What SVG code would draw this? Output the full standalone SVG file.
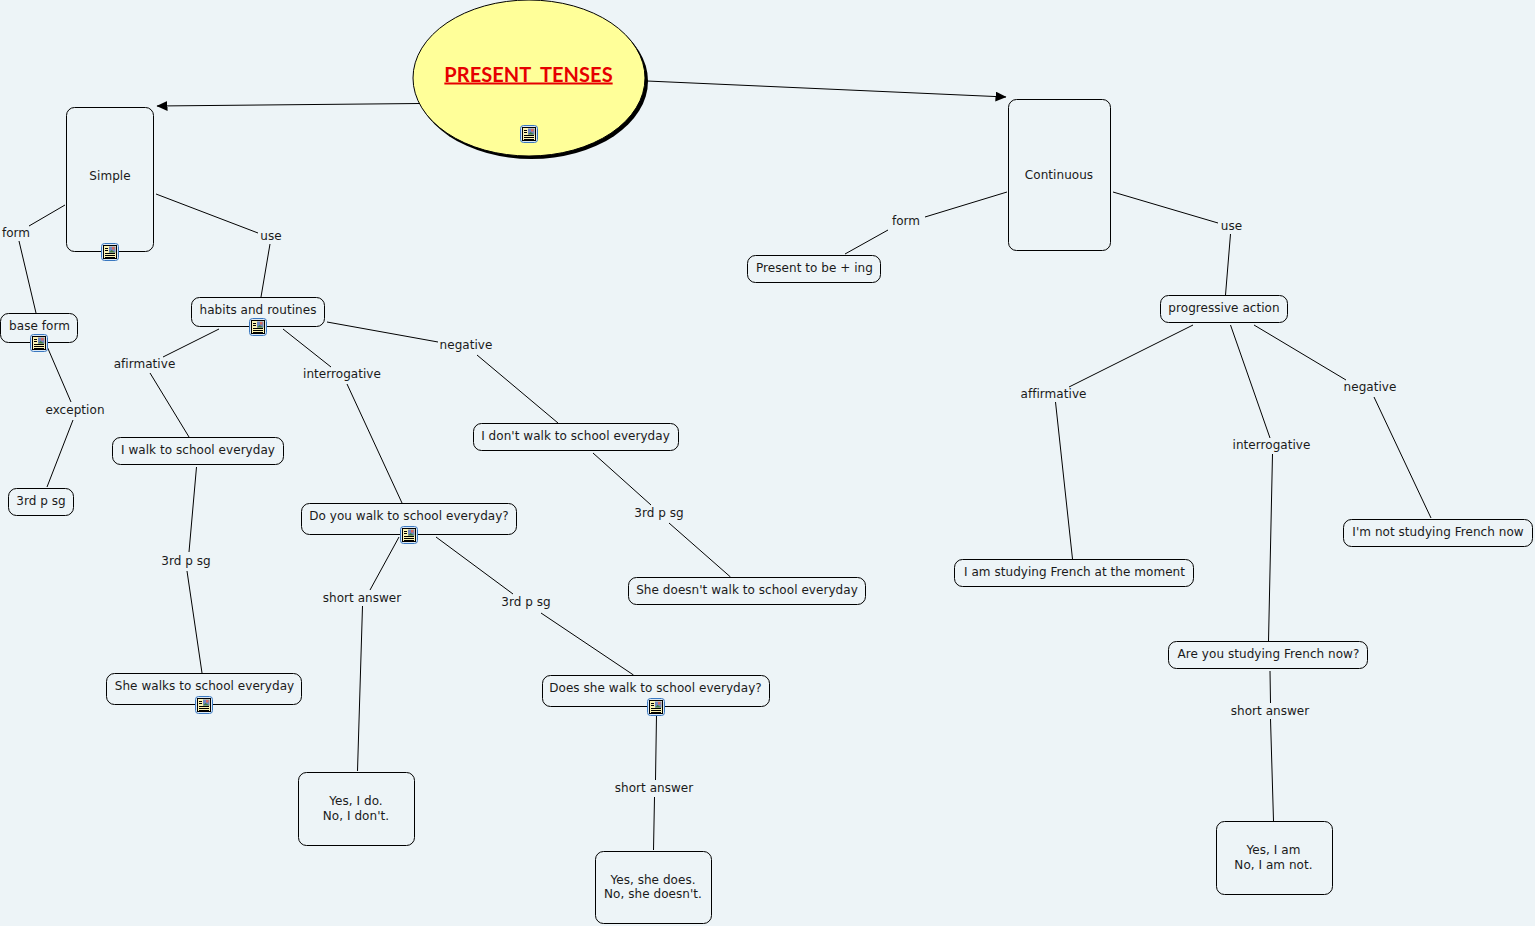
<svg xmlns="http://www.w3.org/2000/svg" width="1535" height="926" viewBox="0 0 1535 926">
<style>
text{font-family:"DejaVu Sans",Verdana,sans-serif;font-size:12px;fill:#1a1a1a;text-anchor:middle;letter-spacing:.05px}
.n{fill:#edf4f7;stroke:#000;stroke-width:1}
.c line{stroke:#000;stroke-width:1}
text.t{font-family:"Lato","Open Sans",sans-serif;font-size:20px;font-weight:700;fill:#e60000;text-decoration:underline;word-spacing:5px}
</style>
<defs>
<marker id="a" markerUnits="userSpaceOnUse" markerWidth="11" markerHeight="10" refX="10.500" refY="5" orient="auto"><path d="M0 0L11 5L0 10Z" fill="#000"/></marker>
<g id="i">
<rect x="-8.500" y="-8.500" width="17" height="17" rx="3" fill="#dbe9f7" stroke="#3a78c0"/>
<rect x="-6.500" y="-6.500" width="13" height="13" fill="#fbf3b5" stroke="#000"/>
<rect x="-1" y="-5.500" width="6.500" height="6" fill="#6f86c4"/>
<path d="M-1 .5L1.500-2L5.500 .5Z" fill="#3e7a3e"/>
<rect x="2" y="-5" width="2.500" height="2.500" fill="#d9685a"/>
<path d="M-5-3.500h3M-5-1.500h3M-5 1.500h10M-5 3.500h10M-5 5.500h10" stroke="#000" stroke-width="1" fill="none"/>
</g>
</defs>
<rect width="1535" height="926" fill="#edf4f7"/>
<g class="c">
<line x1="420" y1="103.500" x2="157" y2="106" marker-end="url(#a)"/>
<line x1="647" y1="81" x2="1006" y2="97" marker-end="url(#a)"/>
<line x1="65" y1="205" x2="29" y2="226"/>
<line x1="19" y1="241" x2="36" y2="313"/>
<line x1="156" y1="194" x2="258" y2="233"/>
<line x1="270" y1="244" x2="261" y2="297"/>
<line x1="46" y1="344" x2="71" y2="402"/>
<line x1="73" y1="420" x2="47" y2="487"/>
<line x1="219" y1="329" x2="163" y2="357"/>
<line x1="150" y1="373" x2="189" y2="437"/>
<line x1="283" y1="329" x2="331" y2="367"/>
<line x1="347" y1="384" x2="402" y2="503"/>
<line x1="327" y1="322" x2="438" y2="342"/>
<line x1="477" y1="355" x2="558" y2="423"/>
<line x1="196.500" y1="467" x2="189" y2="552"/>
<line x1="187" y1="571" x2="202" y2="673"/>
<line x1="399" y1="537" x2="370" y2="590"/>
<line x1="362.500" y1="606" x2="357.500" y2="771"/>
<line x1="436" y1="537" x2="513" y2="594"/>
<line x1="541" y1="613" x2="633.500" y2="675"/>
<line x1="593" y1="453" x2="651" y2="505"/>
<line x1="669" y1="523" x2="730.500" y2="577"/>
<line x1="656.500" y1="715" x2="655.500" y2="780"/>
<line x1="654.500" y1="797" x2="653.500" y2="850"/>
<line x1="1007" y1="192" x2="925" y2="217"/>
<line x1="888" y1="230" x2="845" y2="254"/>
<line x1="1113" y1="192" x2="1218" y2="223"/>
<line x1="1230.500" y1="234" x2="1225.500" y2="295"/>
<line x1="1193" y1="325" x2="1069" y2="387"/>
<line x1="1055.500" y1="402" x2="1072.500" y2="559"/>
<line x1="1230.500" y1="325" x2="1270" y2="438"/>
<line x1="1272.500" y1="454" x2="1268.500" y2="641"/>
<line x1="1254" y1="325" x2="1346" y2="380"/>
<line x1="1374" y1="397" x2="1431" y2="518"/>
<line x1="1270" y1="671" x2="1270.500" y2="703"/>
<line x1="1270.500" y1="719" x2="1273.500" y2="821"/>
</g>
<g id="root">
<ellipse cx="531.500" cy="81" rx="116.500" ry="78" fill="#000"/>
<ellipse cx="529" cy="78" rx="116" ry="78" fill="#ffff99" stroke="#000"/>
<text class="t" x="528.500" y="81.500">PRESENT TENSES</text>
<use href="#i" x="529" y="134"/>
</g>
<g id="simple"><rect class="n" x="66.500" y="107.500" width="87" height="144" rx="8"/><text x="110" y="180">Simple</text><use href="#i" x="110" y="252"/></g>
<g id="continuous"><rect class="n" x="1008.500" y="99.500" width="102" height="151" rx="8"/><text x="1059" y="179">Continuous</text></g>
<g id="base-form"><rect class="n" x="0.500" y="313.500" width="77" height="29" rx="8"/><text x="39.500" y="330">base form</text><use href="#i" x="39" y="343"/></g>
<g id="third1"><rect class="n" x="8.500" y="488.500" width="65" height="27" rx="8"/><text x="41" y="505">3rd p sg</text></g>
<g id="habits"><rect class="n" x="191.500" y="297.500" width="133" height="29" rx="8"/><text x="258" y="314">habits and routines</text><use href="#i" x="258" y="327"/></g>
<g id="walk"><rect class="n" x="112.500" y="437.500" width="171" height="27" rx="8"/><text x="198" y="454">I walk to school everyday</text></g>
<g id="she-walks"><rect class="n" x="106.500" y="673.500" width="195" height="31" rx="8"/><text x="204.500" y="690">She walks to school everyday</text><use href="#i" x="204" y="705"/></g>
<g id="do-you"><rect class="n" x="301.500" y="503.500" width="215" height="31" rx="8"/><text x="409" y="520">Do you walk to school everyday?</text><use href="#i" x="409" y="535"/></g>
<g id="dont"><rect class="n" x="473.500" y="423.500" width="205" height="27" rx="8"/><text x="575.500" y="440">I don't walk to school everyday</text></g>
<g id="doesnt"><rect class="n" x="628.500" y="577.500" width="237" height="27" rx="8"/><text x="747" y="594">She doesn't walk to school everyday</text></g>
<g id="does-she"><rect class="n" x="542.500" y="675.500" width="227" height="31" rx="8"/><text x="655.500" y="692">Does she walk to school everyday?</text><use href="#i" x="656" y="707"/></g>
<g id="yes-do"><rect class="n" x="298.500" y="772.500" width="116" height="73" rx="8"/><text x="356" y="805">Yes, I do.</text><text x="356" y="820">No, I don't.</text></g>
<g id="yes-does"><rect class="n" x="595.500" y="851.500" width="116" height="72" rx="8"/><text x="653" y="883.500">Yes, she does.</text><text x="653" y="898">No, she doesn't.</text></g>
<g id="present-be"><rect class="n" x="747.500" y="255.500" width="133" height="27" rx="8"/><text x="814.500" y="272">Present to be + ing</text></g>
<g id="progressive"><rect class="n" x="1160.500" y="295.500" width="127" height="27" rx="8"/><text x="1224" y="312">progressive action</text></g>
<g id="studying"><rect class="n" x="954.500" y="559.500" width="239" height="27" rx="8"/><text x="1074.500" y="576">I am studying French at the moment</text></g>
<g id="are-you"><rect class="n" x="1168.500" y="641.500" width="199" height="27" rx="8"/><text x="1268.500" y="658">Are you studying French now?</text></g>
<g id="not-studying"><rect class="n" x="1343.500" y="519.500" width="189" height="27" rx="8"/><text x="1438" y="536">I'm not studying French now</text></g>
<g id="yes-am"><rect class="n" x="1216.500" y="821.500" width="116" height="73" rx="8"/><text x="1273.500" y="854">Yes, I am</text><text x="1273.500" y="869">No, I am not.</text></g>
<g id="labels">
<text x="16" y="237">form</text><text x="271" y="240">use</text><text x="75" y="414">exception</text>
<text x="144.500" y="368">afirmative</text><text x="342" y="378">interrogative</text><text x="466" y="349">negative</text>
<text x="186" y="565">3rd p sg</text><text x="362" y="602">short answer</text><text x="526" y="606">3rd p sg</text>
<text x="659" y="517">3rd p sg</text><text x="654" y="792">short answer</text><text x="906" y="225">form</text>
<text x="1231.500" y="230">use</text><text x="1053.500" y="398">affirmative</text><text x="1271.500" y="449">interrogative</text>
<text x="1370" y="391">negative</text><text x="1270" y="715">short answer</text>
</g>
</svg>
